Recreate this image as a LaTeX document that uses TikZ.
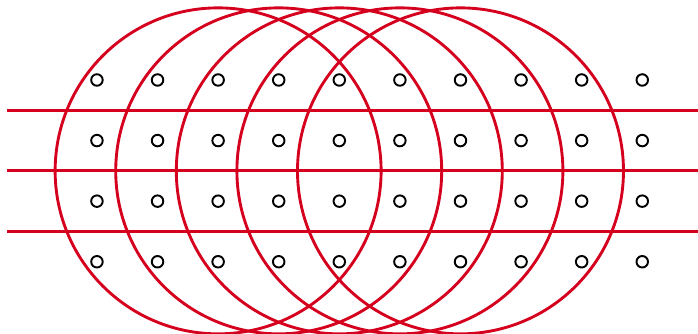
\documentclass[tikz,border=0pt]{standalone}
\usepackage{tikz}
\usetikzlibrary{positioning}
\definecolor{wavered}{HTML}{D5001E}

\begin{document}
\begin{tikzpicture}[
    wave/.style={draw=wavered, line width=1.35pt},
    site/.style={draw=black, line width=0.9pt}
]
\useasboundingbox (-1.6,-1.19) rectangle (9.92,4.32);
% plane wave fronts
\foreach \y in {0.5,1.5,2.5}
    \draw[wave] (-1.48,\y) -- (9.92,\y);
% spherical wave fronts
\foreach \x in {2,...,6}
    \draw[wave] (\x,1.5) circle (2.69);
% lattice points
\foreach \x in {0,...,9}
    \foreach \y in {0,...,3}
        \draw[site] (\x,\y) circle (0.095);
\end{tikzpicture}
\end{document}
